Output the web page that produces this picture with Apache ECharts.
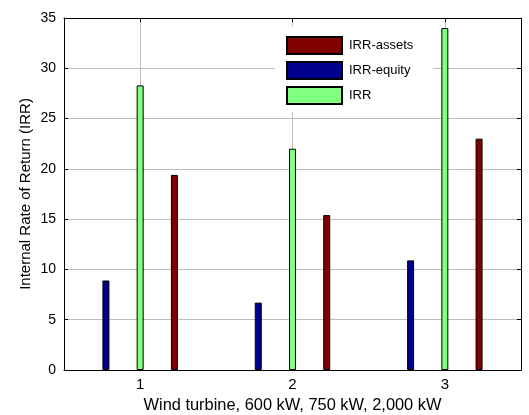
<!DOCTYPE html>
<html>
<head>
<meta charset="utf-8">
<script src="https://cdn.jsdelivr.net/npm/echarts@6/dist/echarts.min.js"></script>
<style>
  html, body { margin: 0; padding: 0; background: #ffffff; }
  #chart { width: 529px; height: 415px; }
</style>
</head>
<body>
<div id="chart"></div>
<script>
// Turbine cases on the x axis
const turbines = ['1', '2', '3'];

// Internal rate of return per case (%)
const irrEquity = [8.9, 6.7, 10.9];
const irrTotal = [28.3, 22.0, 34.0];
const irrAssets = [19.4, 15.4, 23.0];

// Value axis range
const yMin = 0;
const yMax = 35;
const yStep = 5;

const FONT = 'Arial, "Liberation Sans", sans-serif';
const GRID_GRAY = '#bdbdbd';

const chart = echarts.init(document.getElementById('chart'), null, { renderer: 'canvas' });

const barStyle = (color) => ({ color: color, borderColor: '#000000', borderWidth: 1 });

const valueAxisBase = {
  type: 'value',
  min: yMin,
  max: yMax,
  interval: yStep,
  axisLine: { show: true, lineStyle: { color: '#000000', width: 1 } },
  axisTick: { show: true, inside: true, length: 4, lineStyle: { color: '#000000' } }
};

chart.setOption({
  animation: false,
  backgroundColor: '#ffffff',
  textStyle: { fontFamily: FONT },
  grid: { left: 64, right: 8, top: 18, bottom: 45, containLabel: false, outerBoundsMode: 'none' },
  legend: {
    data: ['IRR-assets', 'IRR-equity', 'IRR'],
    orient: 'vertical',
    left: 275,
    top: 26,
    icon: 'rect',
    itemWidth: 55,
    itemHeight: 17,
    itemGap: 6,
    padding: [10, 20, 7, 11],
    backgroundColor: '#ffffff',
    borderWidth: 0,
    selectedMode: false,
    textStyle: { fontFamily: FONT, fontSize: 13, color: '#000000', padding: [0, 0, 0, 2] }
  },
  xAxis: [
    {
      type: 'category',
      data: turbines,
      position: 'bottom',
      axisLine: { show: true, onZero: false, lineStyle: { color: '#000000', width: 1 } },
      axisTick: { show: true, inside: true, alignWithLabel: true, length: 4, lineStyle: { color: '#000000' } },
      axisLabel: { fontFamily: FONT, fontSize: 15, color: '#000000', margin: 7 },
      splitLine: { show: true, alignWithLabel: true, lineStyle: { color: GRID_GRAY, width: 1 } },
      name: 'Wind turbine, 600 kW, 750 kW, 2,000 kW',
      nameLocation: 'middle',
      nameGap: 27,
      nameMoveOverlap: false,
      nameTextStyle: { fontFamily: FONT, fontSize: 16.4, color: '#000000' }
    },
    {
      type: 'category',
      data: turbines,
      position: 'top',
      axisLine: { show: true, onZero: false, lineStyle: { color: '#000000', width: 1 } },
      axisTick: { show: true, inside: true, alignWithLabel: true, length: 4, lineStyle: { color: '#000000' } },
      axisLabel: { show: false },
      splitLine: { show: false }
    }
  ],
  yAxis: [
    Object.assign({}, valueAxisBase, {
      position: 'left',
      axisLabel: { fontFamily: FONT, fontSize: 14, color: '#000000', margin: 8 },
      splitLine: { show: true, lineStyle: { color: GRID_GRAY, width: 1 } },
      name: 'Internal Rate of Return (IRR)',
      nameLocation: 'middle',
      nameGap: 31,
      nameMoveOverlap: false,
      nameTextStyle: { fontFamily: FONT, fontSize: 15, color: '#000000' }
    }),
    Object.assign({}, valueAxisBase, {
      position: 'right',
      axisLabel: { show: false },
      splitLine: { show: false }
    })
  ],
  series: [
    {
      name: 'IRR-equity', type: 'bar', xAxisIndex: 0, yAxisIndex: 0,
      data: irrEquity, barWidth: 7, barGap: '389%',
      itemStyle: barStyle('#00008F')
    },
    {
      name: 'IRR', type: 'bar', xAxisIndex: 0, yAxisIndex: 0,
      data: irrTotal, barWidth: 7, barGap: '389%',
      itemStyle: barStyle('#80FF80')
    },
    {
      name: 'IRR-assets', type: 'bar', xAxisIndex: 0, yAxisIndex: 0,
      data: irrAssets, barWidth: 7, barGap: '389%',
      itemStyle: barStyle('#800000')
    }
  ]
});
</script>
</body>
</html>
